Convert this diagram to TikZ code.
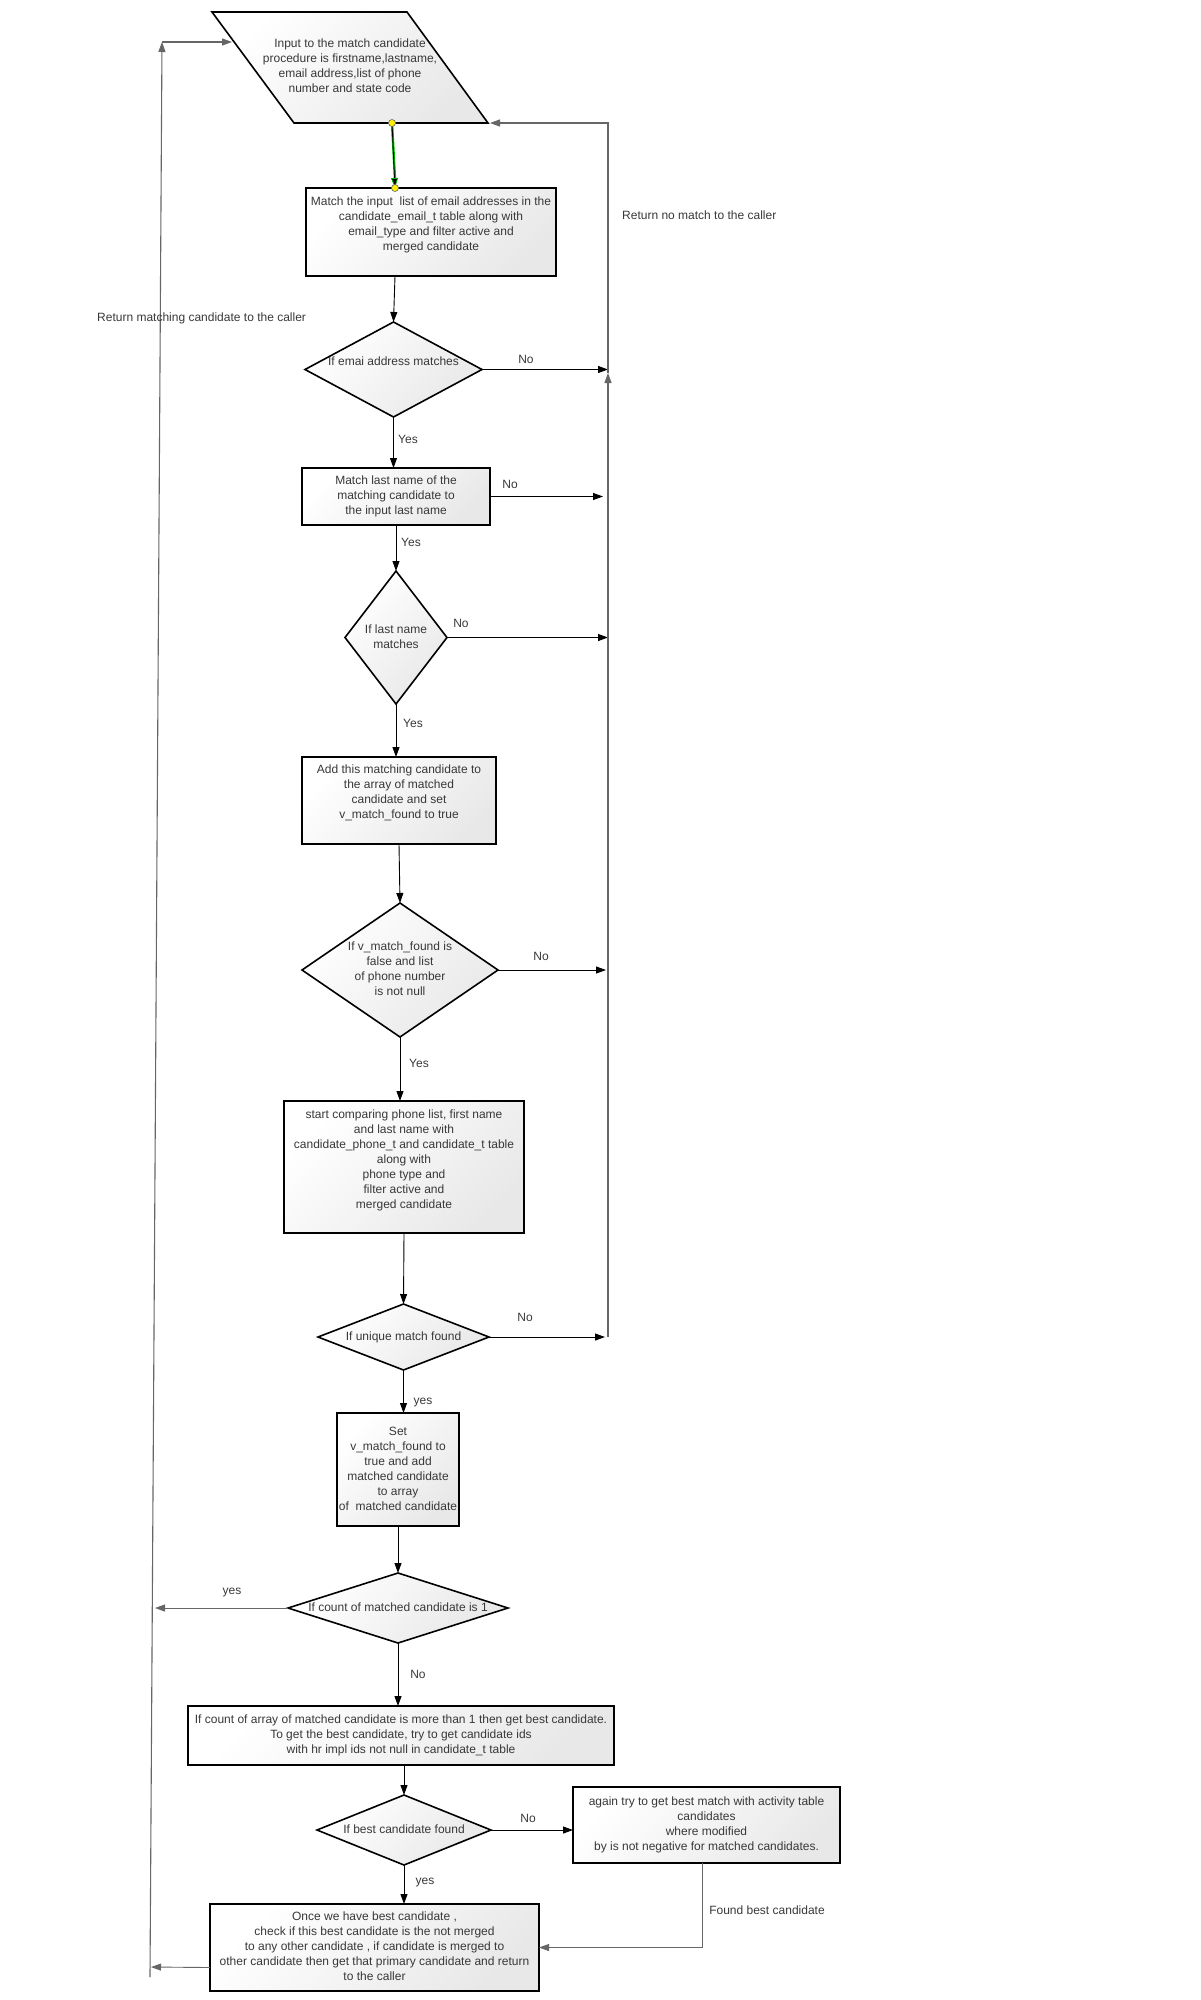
\documentclass[tikz,border=0pt]{standalone}
\usepackage{fontspec}
\setmainfont{Liberation Sans}
\usetikzlibrary{shapes.geometric,arrows.meta,calc}
\newcommand{\boxtxt}[2][0pt]{\raisebox{\dimexpr#1-3pt\relax}[0pt][0pt]{\makebox[0pt]{\begin{tabular}{@{}c@{}}#2\end{tabular}}}}
\begin{document}
\begin{tikzpicture}[x=1pt,y=-1pt,
  every node/.style={font=\fontsize{12}{15}\selectfont, text=black!78},
  shadefill/.style={top color=white, bottom color=black!9, shading angle=45},
  procbox/.style={draw=black, line width=1.6pt, shadefill, rectangle, inner sep=0pt, outer sep=0pt},
  decision/.style={draw=black, line width=1.6pt, shadefill, diamond, inner sep=0pt, outer sep=0pt},
  conn/.style={draw=black, line width=0.9pt, -{Triangle[length=10pt,width=7pt]}},
  trunk/.style={draw=black!60, line width=1.1pt},
  lbl/.style={inner sep=0pt}
]
\useasboundingbox (0,0) rectangle (1200,2000);

% input parallelogram
\path[draw=black, line width=1.6pt, shadefill] (212,12) -- (407,12) -- (488,123) -- (294,123) -- cycle;
\node (p) at (350,67) {\boxtxt{Input to the match candidate\\ procedure is firstname,lastname,\\ email address,list of phone\\ number and state code}};
\coordinate (pbot) at (392,123);
\coordinate (pbr) at (490,123);
\coordinate (pin) at (232,42);

% process boxes and decisions
\node[procbox, minimum width=250pt, minimum height=88pt] (b1) at (431,232) {\boxtxt[7pt]{Match the input\ \ list of email addresses in the\\ candidate\_email\_t table along with\\ email\_type and filter active and\\ merged candidate}};
\node[decision, minimum width=177pt, minimum height=95pt] (d1) at (393.5,369.5) {\boxtxt[7pt]{If emai address matches}};
\node[procbox, minimum width=188pt, minimum height=57pt] (b2) at (396,496.5) {\boxtxt{Match last name of the\\ matching candidate to\\ the input last name}};
\node[decision, minimum width=102pt, minimum height=133pt] (d2) at (396,637.5) {\boxtxt{If last name\\ matches}};
\node[procbox, minimum width=194pt, minimum height=87pt] (b3) at (399,800.5) {\boxtxt[8pt]{Add this matching candidate to\\ the array of matched\\ candidate and set\\ v\_match\_found to true}};
\node[decision, minimum width=196pt, minimum height=134pt] (d3) at (400,970) {\boxtxt{If v\_match\_found is\\ false and list\\ of phone number\\ is not null}};
\node[procbox, minimum width=240pt, minimum height=132pt] (b4) at (404,1167) {\boxtxt[7pt]{start comparing phone list, first name\\ and last name with\\ candidate\_phone\_t and candidate\_t table\\ along with\\ phone type and\\ filter active and\\ merged candidate}};
\node[decision, minimum width=171pt, minimum height=66pt] (d4) at (403.5,1337) {\boxtxt{If unique match found}};
\node[procbox, minimum width=122pt, minimum height=113pt] (b5) at (398,1469.5) {\boxtxt{Set\\ v\_match\_found to\\ true and add\\ matched candidate\\ to array\\ of\ \ matched candidate}};
\node[decision, minimum width=220pt, minimum height=70pt] (d5) at (398,1608) {\boxtxt{If count of matched candidate is 1}};
\node[procbox, minimum width=426pt, minimum height=59pt] (b6) at (401,1735.5) {\boxtxt{If count of array of matched candidate is more than 1 then get best candidate.\\ To get the best candidate, try to get candidate ids\\ with hr impl ids not null in candidate\_t table}};
\node[decision, minimum width=174pt, minimum height=70pt] (d6) at (404,1830) {\boxtxt{If best candidate found}};
\node[procbox, minimum width=267pt, minimum height=76pt] (b7) at (706.5,1825) {\boxtxt{again try to get best match with activity table\\ candidates\\ where modified\\ by is not negative for matched candidates.}};
\node[procbox, minimum width=329pt, minimum height=87pt] (b8) at (374.5,1947.5) {\boxtxt{Once we have best candidate ,\\ check if this best candidate is the not merged\\ to any other candidate , if candidate is merged to\\ other candidate then get that primary candidate and return\\ to the caller}};

% trunk coordinates
\coordinate (R1) at (608,369.5);
\coordinate (R2) at (603,496.5);
\coordinate (R3) at (608,637.5);
\coordinate (R4) at (606,970);
\coordinate (R5) at (605,1337);
\coordinate (Rbot) at (608,1337);
\coordinate (Rup) at (608,373);
\coordinate (Rtop) at (608,123);
\coordinate (Lbot) at (150,1977);
\coordinate (Ltop) at (162,42);
\coordinate (L1) at (155,1608);
\coordinate (L2) at (151,1967);

% green selected connector
\draw[green!70!black, line width=2.4pt] (pbot) -- ([xshift=89pt,yshift=9pt]b1.north west);
\draw[black, line width=0.8pt, -{Triangle[length=10pt,width=7pt,fill=black,color=green!70!black,line width=0.8pt]}] (pbot) -- ([xshift=89pt]b1.north west);
\filldraw[fill=yellow, draw=black!60, line width=0.6pt] (pbot) circle (3.5pt);
\filldraw[fill=yellow, draw=black!60, line width=0.6pt] ([xshift=89pt]b1.north west) circle (3.5pt);

% main flow
\draw[conn] ([xshift=89pt]b1.south west) -- (d1.north);
\draw[conn] (d1.south) -- (d1.south |- b2.north);
\draw[conn] (b2.south) -- (d2.north);
\draw[conn] (d2.south) -- (d2.south |- b3.north);
\draw[conn] (b3.south) -- (d3.north);
\draw[conn] (d3.south) -- (d3.south |- b4.north);
\draw[conn] (b4.south) -- (d4.north);
\draw[conn] (d4.south) -- (d4.south |- b5.north);
\draw[conn] (b5.south) -- (d5.north);
\draw[conn] (d5.south) -- (d5.south |- b6.north);
\draw[conn] (d6.north |- b6.south) -- (d6.north);
\draw[conn] (d6.south) -- (d6.south |- b8.north);
\draw[conn] (d6.east) -- (d6.east -| b7.west);
\draw[conn, draw=black!60] ([xshift=-4pt]b7.south) |- (b8.east);

% no branches to right trunk
\draw[conn] (d1.east) -- (R1);
\draw[conn] (b2.east) -- (R2);
\draw[conn] (d2.east) -- (R3);
\draw[conn] (d3.east) -- (R4);
\draw[conn] (d4.east) -- (R5);
\draw[trunk, -{Triangle[length=10pt,width=7pt]}] (Rbot) -- (Rup);
\draw[trunk, -{Triangle[length=10pt,width=7pt]}] (Rup) -- (Rtop) -- (pbr);

% return to caller on left trunk
\draw[conn, draw=black!60] (d5.west) -- (L1);
\draw[conn, draw=black!60] ([yshift=-20pt]b8.west) -- (L2);
\draw[trunk, -{Triangle[length=10pt,width=7pt]}] (Lbot) -- (Ltop);
\draw[trunk, -{Triangle[length=10pt,width=7pt]}] (Ltop) -- (pin);

% labels
\node[lbl, anchor=west] (tnomatch) at (622,215) {Return no match to the caller};
\node[lbl, anchor=west] (tmatch) at (97,318) {Return matching candidate to the caller};
\node[lbl] (n1) at (526,359) {No};
\node[lbl] (n2) at (510,484) {No};
\node[lbl] (n3) at (461,623) {No};
\node[lbl] (n4) at (541,956) {No};
\node[lbl] (n5) at (525,1317) {No};
\node[lbl] (n6) at (418,1674) {No};
\node[lbl] (n7) at (528,1818) {No};
\node[lbl] (y1) at (408,439) {Yes};
\node[lbl] (y2) at (411,542) {Yes};
\node[lbl] (y3) at (413,723) {Yes};
\node[lbl] (y4) at (419,1063) {Yes};
\node[lbl] (y5) at (423,1402) {yes};
\node[lbl] (y6) at (232,1592) {yes};
\node[lbl] (y7) at (425,1882) {yes};
\node[lbl] (tfound) at (767,1910) {Found best candidate};
\end{tikzpicture}
\end{document}
